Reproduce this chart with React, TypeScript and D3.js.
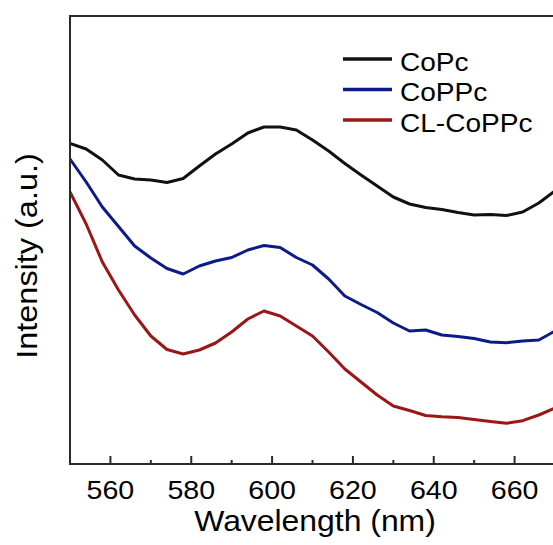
import React from 'react';
import * as d3 from 'd3';

const wavelengths = [550, 554, 558, 562, 566, 570, 574, 578, 582, 586, 590, 594, 598, 602, 606, 610, 614, 618, 622, 626, 630, 634, 638, 642, 646, 650, 654, 658, 662, 666, 670];
const coPc = [320.5, 315, 304, 289, 285, 284, 281.5, 285.5, 298, 310, 320, 331, 337, 337, 334, 324, 313, 300.5, 289, 278, 267, 260, 256.5, 254.5, 251.5, 249, 249.5, 248.5, 252, 261, 273];
const coPPc = [305, 282, 257, 237.5, 218, 206, 195.5, 190, 198, 203, 206.5, 214, 218.5, 216.5, 206.5, 199, 185, 168, 159.5, 151.5, 141, 133, 134, 129, 127.5, 125.5, 122, 121.3, 123, 124, 133];
const clCoPPc = [272, 240, 202, 174, 149, 128, 114.5, 110, 114, 121, 132, 145, 153, 148, 138, 128, 112, 95, 82, 69, 58, 53.5, 48.5, 47.3, 46.5, 44.5, 42.5, 40.7, 43.3, 49, 56];
const seriesNames = ['CoPc', 'CoPPc', 'CL-CoPPc'];
const colors = ['#111111', '#0c1a8c', '#9c1616'];
const xTickLabels = [560, 580, 600, 620, 640, 660];

const W = 553;
const H = 545;
const margin = {left: 70, top: 16, right: 555, bottom: 464};

export default function App() {
  const x = d3.scaleLinear().domain([550, 670]).range([margin.left, margin.right]);
  const y = d3.scaleLinear().domain([0, 448]).range([margin.bottom, margin.top]);
  const line = d3.line<number>()
    .x((d, i) => x(wavelengths[i]))
    .y(d => y(d));
  const allSeries = [coPc, coPPc, clCoPPc];
  const minorTicks = d3.range(550, 671, 10);
  const font = 'Arial, "Liberation Sans", Helvetica, sans-serif';
  // the figure's text is a little wider than plain Arial
  const sx = 1.1;

  return (
    <svg width={W} height={H} style={{position: 'absolute', left: 0, top: 0, background: '#fff'}}>
      <defs>
        <clipPath id="plot">
          <rect x={margin.left} y={margin.top} width={margin.right - margin.left} height={margin.bottom - margin.top} />
        </clipPath>
      </defs>
      <g clipPath="url(#plot)">
        {allSeries.map((s, i) => (
          <path key={i} d={line(s) || ''} fill="none" stroke={colors[i]} strokeWidth={3} strokeLinejoin="round" />
        ))}
      </g>
      {/* frame */}
      <rect x={margin.left} y={margin.top} width={margin.right - margin.left} height={margin.bottom - margin.top}
        fill="none" stroke="#2a2a2a" strokeWidth={2} />
      {/* ticks inward */}
      {minorTicks.map(t => {
        const major = (t - 560) % 20 === 0;
        return (
          <line key={t} x1={x(t)} x2={x(t)} y1={margin.bottom} y2={margin.bottom - (major ? 8 : 4)}
            stroke="#2a2a2a" strokeWidth={2} />
        );
      })}
      {xTickLabels.map(t => (
        <text key={t} transform={`translate(${x(t)},499) scale(${sx},1)`} textAnchor="middle"
          fontFamily={font} fontSize={26} fill="#000">{t}</text>
      ))}
      <text transform={`translate(315,531) scale(${sx},1)`} textAnchor="middle" fontFamily={font} fontSize={29} fill="#000">Wavelength (nm)</text>
      <text transform={`translate(37,256) rotate(-90) scale(${sx},1)`} textAnchor="middle" fontFamily={font} fontSize={29.5} fill="#000">Intensity (a.u.)</text>
      {/* legend */}
      {seriesNames.map((name, i) => {
        const ly = 59 + i * 30.5;
        return (
          <g key={name}>
            <line x1={343} x2={392} y1={ly} y2={ly} stroke={colors[i]} strokeWidth={3.5} />
            <text transform={`translate(400,${ly + 11.5}) scale(${sx},1)`} fontFamily={font} fontSize={25.5} fill="#000">{name}</text>
          </g>
        );
      })}
    </svg>
  );
}
